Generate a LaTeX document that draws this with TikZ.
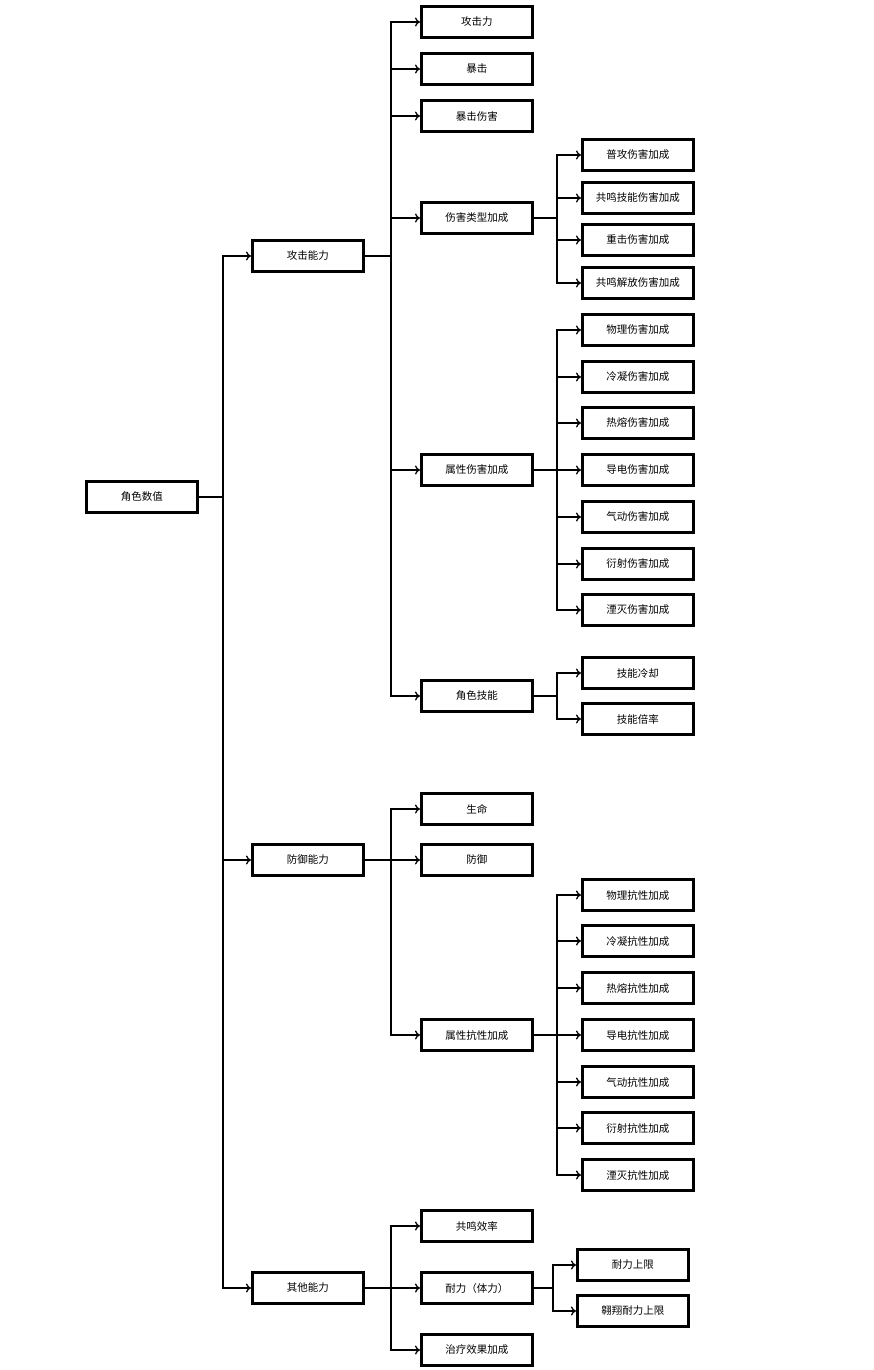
\documentclass[tikz,border=0pt]{standalone}
\usepackage{fontspec}
\usetikzlibrary{arrows.meta}
\setmainfont{Noto Sans CJK SC}
\begin{document}
\begin{tikzpicture}[x=1pt,y=-1pt,
 box/.style={draw,line width=2.6pt,minimum width=111pt,minimum height=31pt,inner sep=0pt,font=\fontsize{10.5pt}{12pt}\selectfont,anchor=west},
 arr/.style={line width=1.3pt,-{To[length=5pt,width=9pt]}},
 ln/.style={line width=1.3pt}]
\useasboundingbox (0,0) rectangle (874,1370);
\node[box] (root) at (85,497) {角色数值};
\node[box] (a) at (251,256) {攻击能力};
\node[box] (d) at (251,860) {防御能力};
\node[box] (o) at (251,1288) {其他能力};
\coordinate (t0) at (223,0);
\coordinate (t1) at (391,0);
\coordinate (t2) at (557,0);
\coordinate (t3) at (553,0);
\foreach \c in {a,d,o}{\draw[arr] (root.east) -- (t0 |- root.east) |- (\c.west);}
% attack
\foreach \n/\y/\t in {a1/22/攻击力,a2/69/暴击,a3/116/暴击伤害,a4/218/伤害类型加成,a5/470/属性伤害加成,a6/696/角色技能}{
 \node[box] (\n) at (420,\y) {\t};
 \draw[arr] (a.east) -- (t1 |- a.east) |- (\n.west);}
\foreach \n/\y/\t in {b1/155/普攻伤害加成,b2/198/共鸣技能伤害加成,b3/240/重击伤害加成,b4/283/共鸣解放伤害加成}{
 \node[box] (\n) at (581,\y) {\t};
 \draw[arr] (a4.east) -- (t2 |- a4.east) |- (\n.west);}
\foreach \n/\y/\t in {c1/330/物理伤害加成,c2/377/冷凝伤害加成,c3/423/热熔伤害加成,c4/470/导电伤害加成,c5/517/气动伤害加成,c6/564/衍射伤害加成,c7/610/湮灭伤害加成}{
 \node[box] (\n) at (581,\y) {\t};
 \draw[arr] (a5.east) -- (t2 |- a5.east) |- (\n.west);}
\foreach \n/\y/\t in {e1/673/技能冷却,e2/719/技能倍率}{
 \node[box] (\n) at (581,\y) {\t};
 \draw[arr] (a6.east) -- (t2 |- a6.east) |- (\n.west);}
% defense
\foreach \n/\y/\t in {d1/809/生命,d2/860/防御,d3/1035/属性抗性加成}{
 \node[box] (\n) at (420,\y) {\t};
 \draw[arr] (d.east) -- (t1 |- d.east) |- (\n.west);}
\foreach \n/\y/\t in {f1/895/物理抗性加成,f2/941/冷凝抗性加成,f3/988/热熔抗性加成,f4/1035/导电抗性加成,f5/1082/气动抗性加成,f6/1128/衍射抗性加成,f7/1175/湮灭抗性加成}{
 \node[box] (\n) at (581,\y) {\t};
 \draw[arr] (d3.east) -- (t2 |- d3.east) |- (\n.west);}
% other
\foreach \n/\y/\t in {o1/1226/共鸣效率,o2/1288/耐力（体力）,o3/1350/治疗效果加成}{
 \node[box] (\n) at (420,\y) {\t};
 \draw[arr] (o.east) -- (t1 |- o.east) |- (\n.west);}
\foreach \n/\y/\t in {g1/1265/耐力上限,g2/1311/翱翔耐力上限}{
 \node[box] (\n) at (576,\y) {\t};
 \draw[arr] (o2.east) -- (t3 |- o2.east) |- (\n.west);}
\end{tikzpicture}
\end{document}
